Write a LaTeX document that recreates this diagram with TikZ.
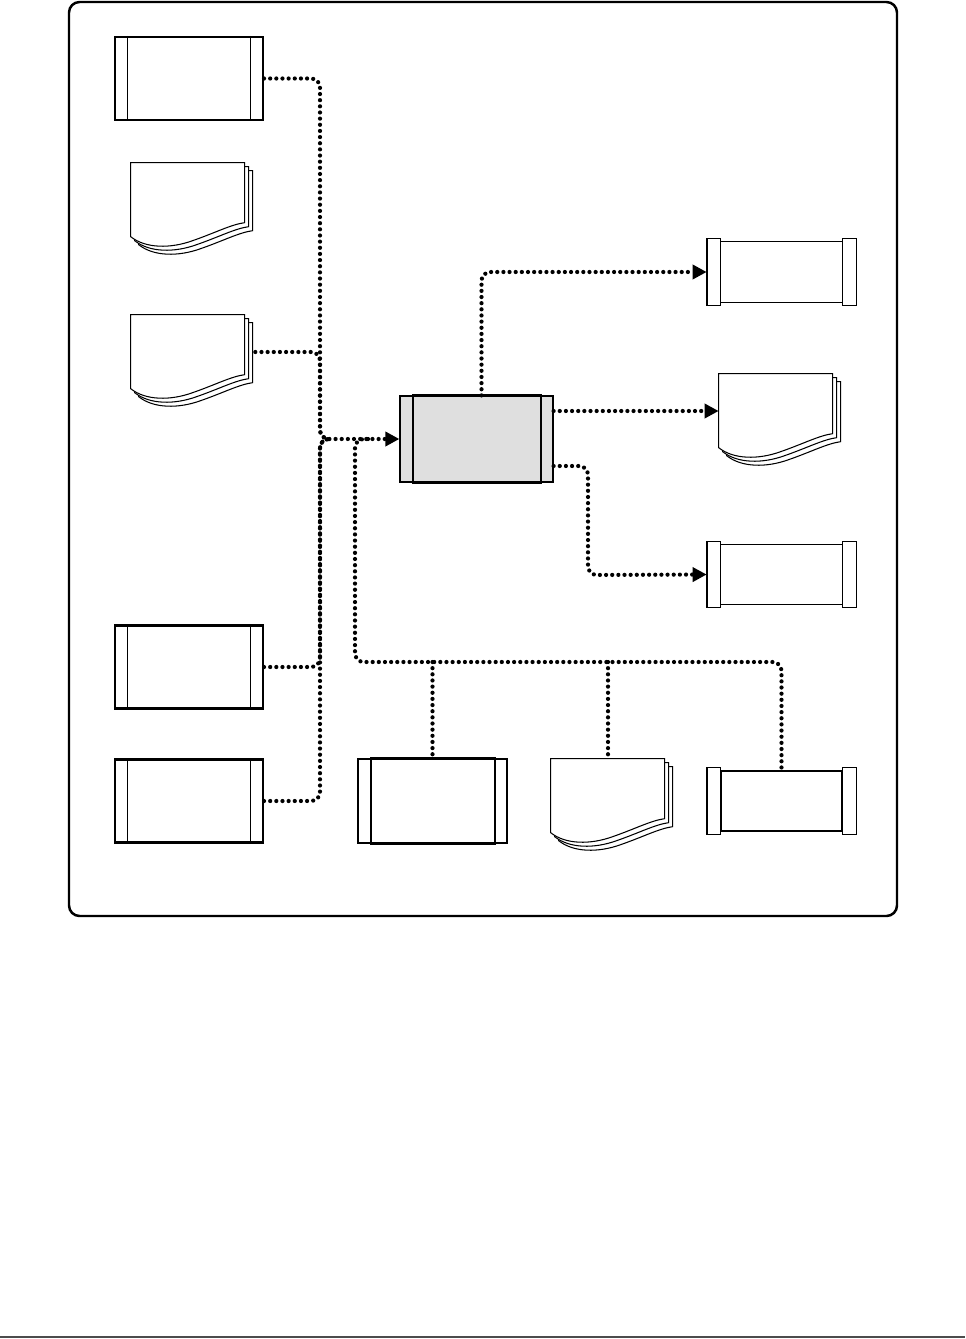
\documentclass[tikz,border=0pt]{standalone}
\usetikzlibrary{arrows.meta,calc}
\tikzset{docstack/.pic={
  \foreach \d in {8,4,0}
    \draw[fill=white,line width=.6pt] (\d,\d) -- ({\d+114},\d) -- ({\d+114},{\d+60})
      .. controls ({\d+100},{\d+62}) and ({\d+85},{\d+70}) .. ({\d+62},{\d+78})
      .. controls ({\d+40},{\d+86}) and ({\d+15},{\d+86}) .. (\d,{\d+74}) -- cycle;
}}
\begin{document}
\begin{tikzpicture}[x=.02cm,y=-.02cm,
  flow/.style={line width=2.4pt,line cap=round,dash pattern=on 0pt off 3.5pt,rounded corners=5pt},
  arr/.style={-{Triangle[length=8pt,width=8pt]}},
  proc/.style={draw,line width=1.2pt,minimum width=2.96cm,minimum height=1.66cm,inner sep=0pt},
  core/.style={draw,line width=.7pt,minimum width=3.06cm,minimum height=1.72cm,inner sep=0pt},
  tape/.style={minimum width=2.98cm,minimum height=1.32cm,inner sep=0pt},
  doc/.style={minimum width=2.28cm,minimum height=1.48cm,inner sep=0pt}]
\useasboundingbox (0,0) rectangle (965,1339);
\draw[line width=1.4pt,rounded corners=6pt] (69,2) rectangle (897,916);
\draw[gray!60!black,line width=1.1pt] (0,1337) -- (965,1337);

\node[proc] (a) at (189,78.5) {};
\node[doc] (b) at (188,200) {};
\node[doc] (c) at (188,352) {};
\node[proc] (d) at (189,667) {};
\node[proc] (e) at (189,801) {};
\node[core,fill=gray!25] (f) at (476.5,439) {};
\node[tape] (g) at (781.5,272) {};
\node[doc] (h) at (776,411) {};
\node[tape] (i) at (781.5,574.5) {};
\node[core,minimum width=2.98cm,minimum height=1.68cm] (j) at (432.5,801) {};
\node[doc] (k) at (608,796) {};
\node[tape] (l) at (781.5,801) {};

\foreach \n in {b,c,h,k} \pic at (\n.north west) {docstack};
\foreach \n in {a,d,e}
  \draw[line width=.6pt] ($(\n.north west)+(14,0)$) -- ($(\n.south west)+(14,0)$)
    ($(\n.north east)+(-14,0)$) -- ($(\n.south east)+(-14,0)$);
\foreach \n in {f,j}
  \draw[line width=1.2pt] ($(\n.north west)+(14,0)$) rectangle ($(\n.south east)+(-13,0)$);
\foreach \n/\w in {g/.7pt,i/.7pt,l/1.2pt}{
  \draw[line width=\w] ($(\n.north west)+(14,3)$) rectangle ($(\n.south east)+(-14,-3)$);
  \draw[fill=white,line width=.7pt] (\n.north west) rectangle ($(\n.south west)+(14,0)$)
    ($(\n.north east)+(-14,0)$) rectangle (\n.south east);
  \draw[line width=1.3pt] (\n.north west) -- (\n.south west);
}

\coordinate (trunk) at (320,439);
\coordinate (hub) at (329,439);
\coordinate (split) at (368,439);
\coordinate (bus) at (355,662);
\coordinate (drop) at (588,575);
\draw[flow,arr] (a.east) -| (trunk) -- (f.west);
\draw[flow] ($(c.east)+(10,0)$) -| (trunk) -- (hub);
\draw[flow] (d.east) -| (trunk) -- (hub);
\draw[flow] (e.east) -| (trunk) -- (hub);
\draw[flow] (split) -| (bus) -| (l.north);
\draw[flow] (bus -| j.north) -- (j.north);
\draw[flow] (bus -| k.north) -- (k.north);
\draw[flow,arr] ($(f.north)+(5,0)$) |- (g.west);
\draw[flow,arr] (h.west -| f.east) -- (h.west);
\draw[flow,arr] ($(f.east)+(0,27)$) -| (drop) -- (i.west);
\end{tikzpicture}
\end{document}
